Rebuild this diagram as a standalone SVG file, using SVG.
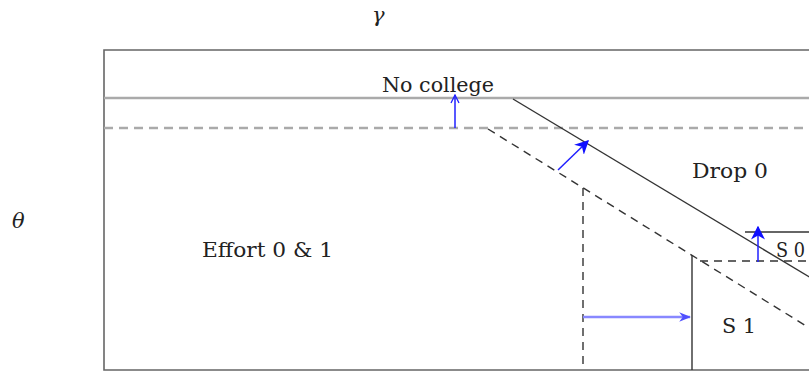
<svg xmlns="http://www.w3.org/2000/svg" width="809" height="372" viewBox="0 0 809 372">
<style>
text{font-family:"DejaVu Serif","Liberation Serif",serif;font-size:21px;fill:#222}
.it{font-style:italic}
.frame{fill:none;stroke:#666;stroke-width:1.6}
.gl{stroke:#aaa;stroke-width:2.6;fill:none}
.gd{stroke:#aaa;stroke-width:2.4;stroke-dasharray:9,6;fill:none}
.dk{stroke:#333;stroke-width:1.4;fill:none}
.dd{stroke:#333;stroke-width:1.4;stroke-dasharray:8,6;fill:none}
.bl{stroke:#2020ff;stroke-width:1.5;fill:none}
.lb{stroke:#8888ff;stroke-width:2.5;fill:none}
</style>
<defs>
<marker id="ah" viewBox="0 0 10 10" refX="9" refY="5" markerWidth="10" markerHeight="10" markerUnits="userSpaceOnUse" orient="auto">
<path d="M1,1 L9,5 L1,9" fill="none" stroke="#2020ff" stroke-width="1.3"/>
</marker>
<marker id="af" viewBox="0 0 10 10" refX="9" refY="5" markerWidth="14" markerHeight="14" markerUnits="userSpaceOnUse" orient="auto">
<path d="M0,0 L10,5 L0,10 L3,5 Z" fill="#1010ff"/>
</marker>
<marker id="al" viewBox="0 0 10 10" refX="9" refY="5" markerWidth="12" markerHeight="12" markerUnits="userSpaceOnUse" orient="auto">
<path d="M0,1 L10,5 L0,9 L3,5 Z" fill="#5050ff"/>
</marker>
</defs>
<g id="frame">
<path class="frame" d="M811,50 H104 V370 H811"/>
</g>
<g id="connectors">
<line class="gl" x1="104" y1="98" x2="811" y2="98"/>
<line class="gd" x1="104" y1="128" x2="811" y2="128"/>
<line class="dk" x1="513" y1="99" x2="811" y2="278"/>
<line class="dd" x1="488" y1="129" x2="811" y2="329"/>
<line class="dd" x1="583" y1="188" x2="583" y2="370"/>
<line class="dk" x1="692" y1="255" x2="692" y2="370"/>
<line class="dd" x1="700" y1="261" x2="811" y2="261"/>
<line class="dk" x1="745" y1="232" x2="811" y2="232"/>
<line class="bl" x1="455" y1="128" x2="455" y2="95" marker-end="url(#ah)"/>
<line class="bl" x1="558" y1="170" x2="588" y2="141" marker-end="url(#af)"/>
<line class="bl" x1="758" y1="262" x2="758" y2="227" marker-end="url(#af)"/>
<line class="lb" x1="583" y1="317" x2="690" y2="317" marker-end="url(#al)"/>
</g>
<g id="gamma"><text class="it" x="372" y="22">γ</text></g>
<g id="theta"><text class="it" x="12" y="228">θ</text></g>
<g id="nocollege"><text x="382" y="92" textLength="112" lengthAdjust="spacingAndGlyphs">No college</text></g>
<g id="drop0"><text x="692" y="178" textLength="76" lengthAdjust="spacingAndGlyphs">Drop 0</text></g>
<g id="effort"><text x="202" y="257" textLength="131" lengthAdjust="spacingAndGlyphs">Effort 0 &amp; 1</text></g>
<g id="s0"><text x="776" y="257" font-size="19" textLength="29" lengthAdjust="spacingAndGlyphs">S 0</text></g>
<g id="s1"><text x="722" y="333" textLength="34" lengthAdjust="spacingAndGlyphs">S 1</text></g>
</svg>
